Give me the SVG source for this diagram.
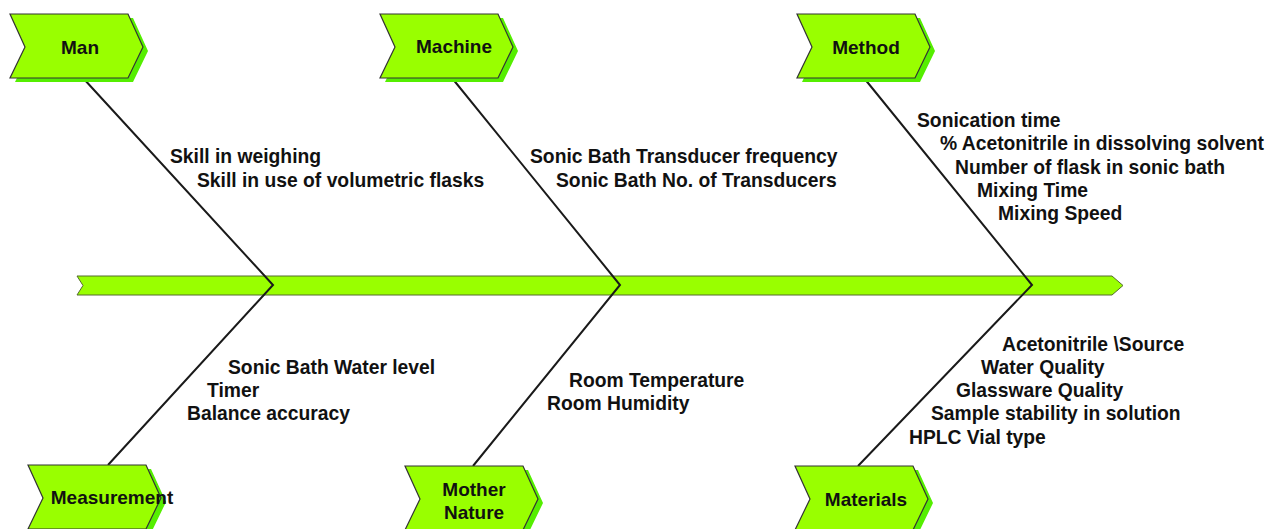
<svg xmlns="http://www.w3.org/2000/svg" width="1268" height="529" viewBox="0 0 1268 529">
<style>
.chev{fill:#99ff00;stroke:#333333;stroke-width:1.2}
.shadow{fill:#55ee00;stroke:none}
.bone{fill:none;stroke:#1a1a1a;stroke-width:2}
.lbl{font-family:"Liberation Sans",Arial,sans-serif;font-weight:bold;font-size:19px;fill:#111}
.cause{font-family:"Liberation Sans",Arial,sans-serif;font-weight:bold;font-size:19.3px;fill:#111}
</style>
<defs>
<path id="chevTop" d="M0,0 H118 L133,33 L118,64 H0 L15,33 Z"/>
</defs>
<rect width="1268" height="529" fill="#ffffff"/>
<g id="spine">
<path d="M77,276 H1112 L1123,285.5 L1112,295 H77 L83,285.5 Z" fill="#99ff00" stroke="#556b2f" stroke-width="1"/>
</g>
<g id="connectors">
<path class="bone" d="M83,78 L273,285 L108,465"/>
<path class="bone" d="M452,78 L620,285 L473,466"/>
<path class="bone" d="M864,78 L1032,285 L858,466"/>
</g>
<g id="man">
<use href="#chevTop" x="15" y="18" class="shadow"/>
<use href="#chevTop" x="10" y="14" class="chev"/>
<text class="lbl" x="80" y="54" text-anchor="middle">Man</text>
</g>
<g id="machine">
<use href="#chevTop" x="385" y="18" class="shadow"/>
<use href="#chevTop" x="380" y="14" class="chev"/>
<text class="lbl" x="454" y="53" text-anchor="middle">Machine</text>
</g>
<g id="method">
<use href="#chevTop" x="802" y="18" class="shadow"/>
<use href="#chevTop" x="797" y="14" class="chev"/>
<text class="lbl" x="866" y="54" text-anchor="middle">Method</text>
</g>
<g id="measurement">
<use href="#chevTop" x="33" y="469" class="shadow"/>
<use href="#chevTop" x="28" y="465" class="chev"/>
<text class="lbl" x="112" y="504" text-anchor="middle">Measurement</text>
</g>
<g id="mother-nature">
<use href="#chevTop" x="410" y="470" class="shadow"/>
<use href="#chevTop" x="405" y="466" class="chev"/>
<text class="lbl" x="474" y="496" text-anchor="middle">Mother</text>
<text class="lbl" x="474" y="519" text-anchor="middle">Nature</text>
</g>
<g id="materials">
<use href="#chevTop" x="800" y="470" class="shadow"/>
<use href="#chevTop" x="795" y="466" class="chev"/>
<text class="lbl" x="866" y="506" text-anchor="middle">Materials</text>
</g>
<g id="man-causes">
<text class="cause" x="170" y="163">Skill in weighing</text>
<text class="cause" x="197" y="187">Skill in use of volumetric flasks</text>
</g>
<g id="machine-causes">
<text class="cause" x="530" y="163">Sonic Bath Transducer frequency</text>
<text class="cause" x="556" y="187">Sonic Bath No. of Transducers</text>
</g>
<g id="method-causes">
<text class="cause" x="917" y="127">Sonication time</text>
<text class="cause" x="940" y="150">% Acetonitrile in dissolving solvent</text>
<text class="cause" x="955" y="174">Number of flask in sonic bath</text>
<text class="cause" x="977" y="197">Mixing Time</text>
<text class="cause" x="998" y="220">Mixing Speed</text>
</g>
<g id="measurement-causes">
<text class="cause" x="228" y="374">Sonic Bath Water level</text>
<text class="cause" x="207" y="397">Timer</text>
<text class="cause" x="187" y="420">Balance accuracy</text>
</g>
<g id="mother-nature-causes">
<text class="cause" x="569" y="387">Room Temperature</text>
<text class="cause" x="547" y="410">Room Humidity</text>
</g>
<g id="materials-causes">
<text class="cause" x="1002" y="351">Acetonitrile \Source</text>
<text class="cause" x="981" y="374">Water Quality</text>
<text class="cause" x="956" y="397">Glassware Quality</text>
<text class="cause" x="931" y="420">Sample stability in solution</text>
<text class="cause" x="909" y="444">HPLC Vial type</text>
</g>
</svg>
